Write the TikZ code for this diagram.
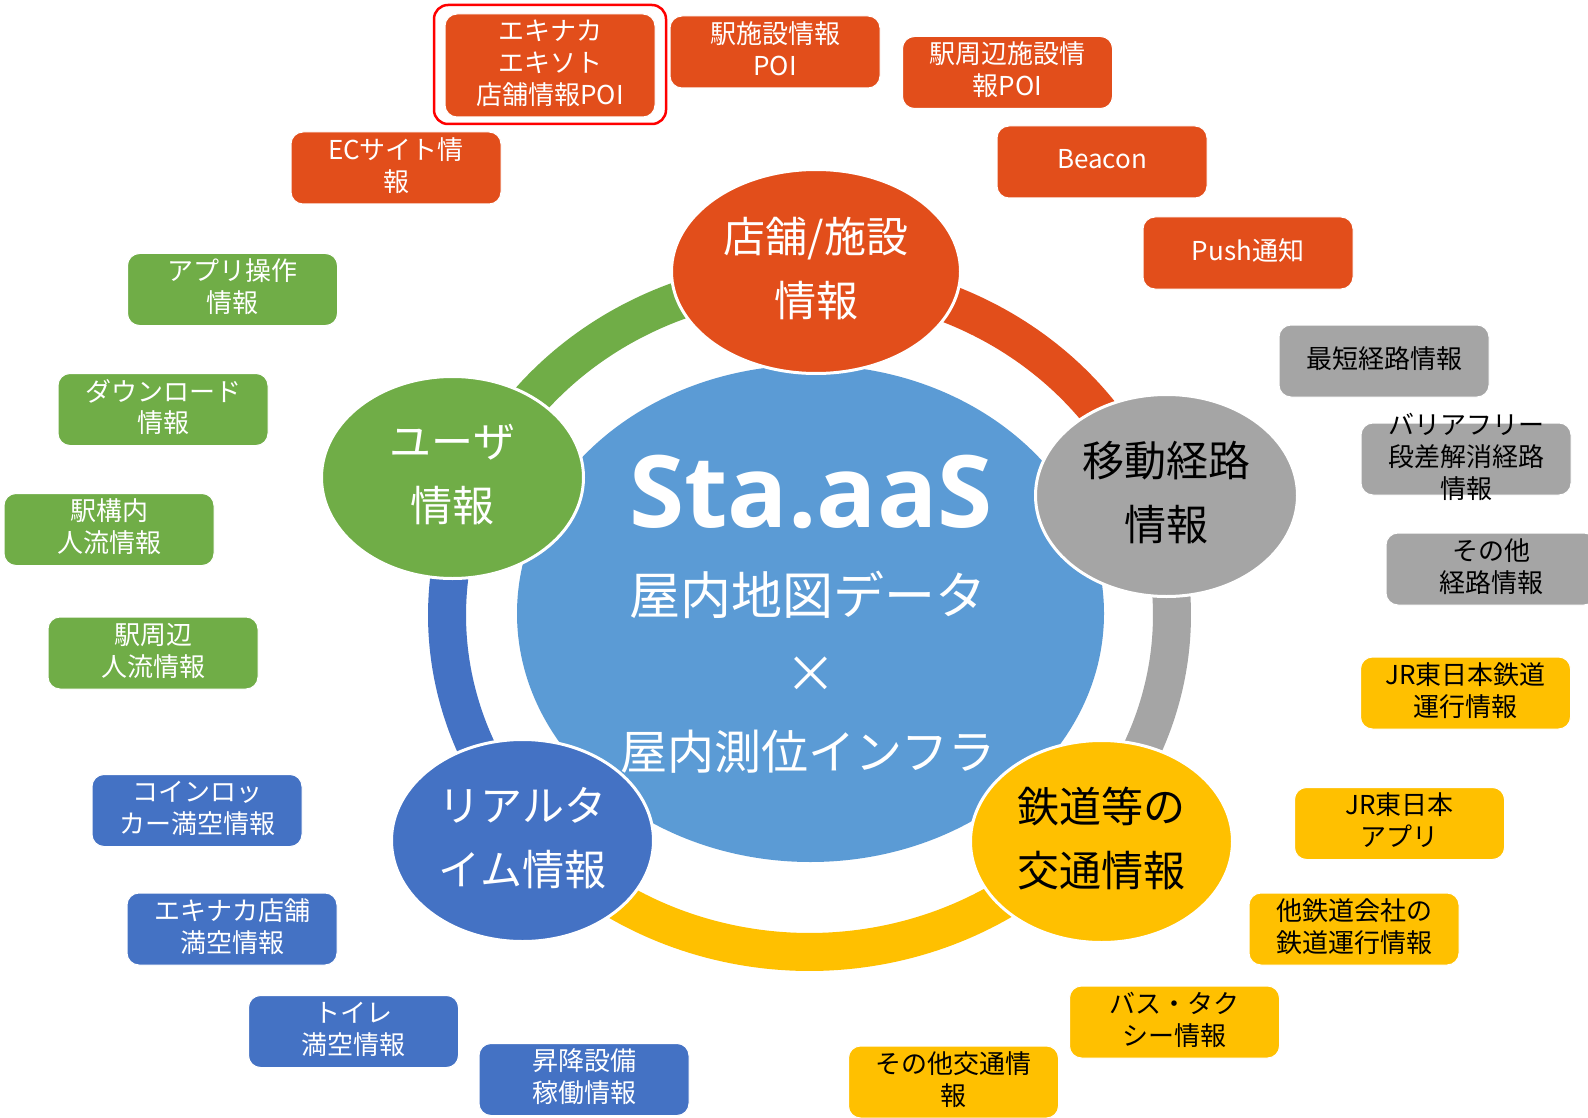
\documentclass[tikz,border=0pt]{standalone}
\usepackage{fontspec}
\setmainfont{Noto Sans CJK JP}
\newfontfamily\stafont{Open Sans}
\usetikzlibrary{shapes.geometric}
\definecolor{cOrange}{HTML}{E24E1B}
\definecolor{cGray}{HTML}{A5A5A5}
\definecolor{cYellow}{HTML}{FFC000}
\definecolor{cBlue}{HTML}{4472C4}
\definecolor{cGreen}{HTML}{70AD47}
\definecolor{cCenter}{HTML}{5B9BD5}
\tikzset{
  boxtext/.style={align=center, font=\fontsize{26}{32}\selectfont, execute at end node={\rule[-7pt]{0pt}{1pt}}},
  infobox/.style={boxtext, rounded corners=12pt, minimum width=210pt, minimum height=72pt, inner sep=0pt, draw=white, line width=1pt},
  ob/.style={infobox, fill=cOrange, text=white},
  gb/.style={infobox, fill=cGray, text=black},
  yb/.style={infobox, fill=cYellow, text=black},
  bb/.style={infobox, fill=cBlue, text=white},
  grb/.style={infobox, fill=cGreen, text=white},
  sat/.style={ellipse, draw=white, line width=3pt, inner sep=0pt, align=center, font=\fontsize{42}{64}\selectfont, execute at end node={\rule[-9pt]{0pt}{1pt}}, minimum width=262pt, minimum height=202pt},
  ringseg/.style={line width=38pt},
}
\begin{document}
\begin{tikzpicture}[x=1pt,y=-1pt]
\useasboundingbox (0,0) rectangle (1588,1118);
\fill[white] (0,0) rectangle (1588,1118);
\begin{scope}
\clip (0,0) rectangle (1588,1118);
% ring segments
\draw[ringseg, cGreen]  plot[domain=202.6:270, samples=60] ({809.5+362.5*cos(\x)}, {615+337*sin(\x)});
\draw[ringseg, cOrange] plot[domain=270:340, samples=60] ({809.5+362.5*cos(\x)}, {615+337*sin(\x)});
\draw[ringseg, cGray]   plot[domain=340:400, samples=60] ({809.5+362.5*cos(\x)}, {615+337*sin(\x)});
\draw[ringseg, cYellow] plot[domain=40:140, samples=80] ({809.5+362.5*cos(\x)}, {615+337*sin(\x)});
\draw[ringseg, cBlue]   plot[domain=140:202.6, samples=60] ({809.5+362.5*cos(\x)}, {615+337*sin(\x)});
% central ellipse
\node[ellipse, fill=cCenter, minimum width=587pt, minimum height=497pt, inner sep=0pt] (core) at (810.5,613.5) {};
\node[anchor=base, text=white, font=\stafont\bfseries\fontsize{100}{100}\selectfont, inner sep=0pt] (title) at (811,527) {Sta.aaS};
\node[text=white, font=\fontsize{51}{51}\selectfont, inner sep=0pt] (map) at (808,595) {屋内地図データ};
\node[text=white, font=\fontsize{51}{51}\selectfont, inner sep=0pt] (times) at (811,675) {×};
\node[text=white, font=\fontsize{47}{47}\selectfont, inner sep=0pt] (infra) at (808,752) {屋内測位インフラ};
% satellites
\node[sat, fill=cOrange, text=white, minimum width=289pt, minimum height=204pt] (shop) at (816,271.5) {店舗/施設\\情報};
\node[sat, fill=cGray, text=black] (route) at (1166.5,495.5) {移動経路\\情報};
\node[sat, fill=cYellow, text=black] (traffic) at (1101.5,841.5) {鉄道等の\\交通情報};
\node[sat, fill=cBlue, text=white] (realtime) at (522.5,840.5) {リアルタ\\イム情報};
\node[sat, fill=cGreen, text=white] (user) at (452.5,477.5) {ユーザ\\情報};
% orange boxes
\node[draw=red, line width=2.5pt, rounded corners=14pt, minimum width=232pt, minimum height=119pt, inner sep=0pt] (hl) at (550,64.5) {};
\node[ob, minimum height=103pt] (o1) at (550,65.5) {エキナカ\\エキソト\\店舗情報POI};
\node[ob] (o2) at (775,52) {駅施設情報\\POI};
\node[ob] (o3) at (1007.5,72.5) {駅周辺施設情\\報POI};
\node[ob] (o4) at (1102,162) {Beacon};
\node[ob] (o5) at (1248,253) {Push通知};
\node[ob] (o6) at (396,168) {ECサイト情\\報};
% gray boxes
\node[gb] (g1) at (1384,361) {最短経路情報};
\node[gb] (g2) at (1466,459) {};
\node[boxtext, inner sep=0pt, text=black] (g2t) at (g2.center) {バリアフリー\\段差解消経路\\情報};
\node[gb] (g3) at (1491,569) {その他\\経路情報};
% yellow boxes
\node[yb] (y1) at (1465.5,693) {JR東日本鉄道\\運行情報};
\node[yb] (y2) at (1399.5,823.5) {JR東日本\\アプリ};
\node[yb] (y3) at (1354,929) {他鉄道会社の\\鉄道運行情報};
\node[yb] (y4) at (1174.5,1022) {バス・タク\\シー情報};
\node[yb] (y5) at (953.5,1082) {その他交通情\\報};
% green boxes
\node[grb] (e1) at (232.5,289.5) {アプリ操作\\情報};
\node[grb] (e2) at (163,409.5) {ダウンロード\\情報};
\node[grb] (e3) at (109,529.5) {駅構内\\人流情報};
\node[grb] (e4) at (153,653) {駅周辺\\人流情報};
% blue boxes
\node[bb] (l1) at (197,810.5) {コインロッ\\カー満空情報};
\node[bb] (l2) at (232,929) {エキナカ店舗\\満空情報};
\node[bb] (l3) at (353.5,1031.5) {トイレ\\満空情報};
\node[bb] (l4) at (584,1079.5) {昇降設備\\稼働情報};
\end{scope}
\end{tikzpicture}
\end{document}
